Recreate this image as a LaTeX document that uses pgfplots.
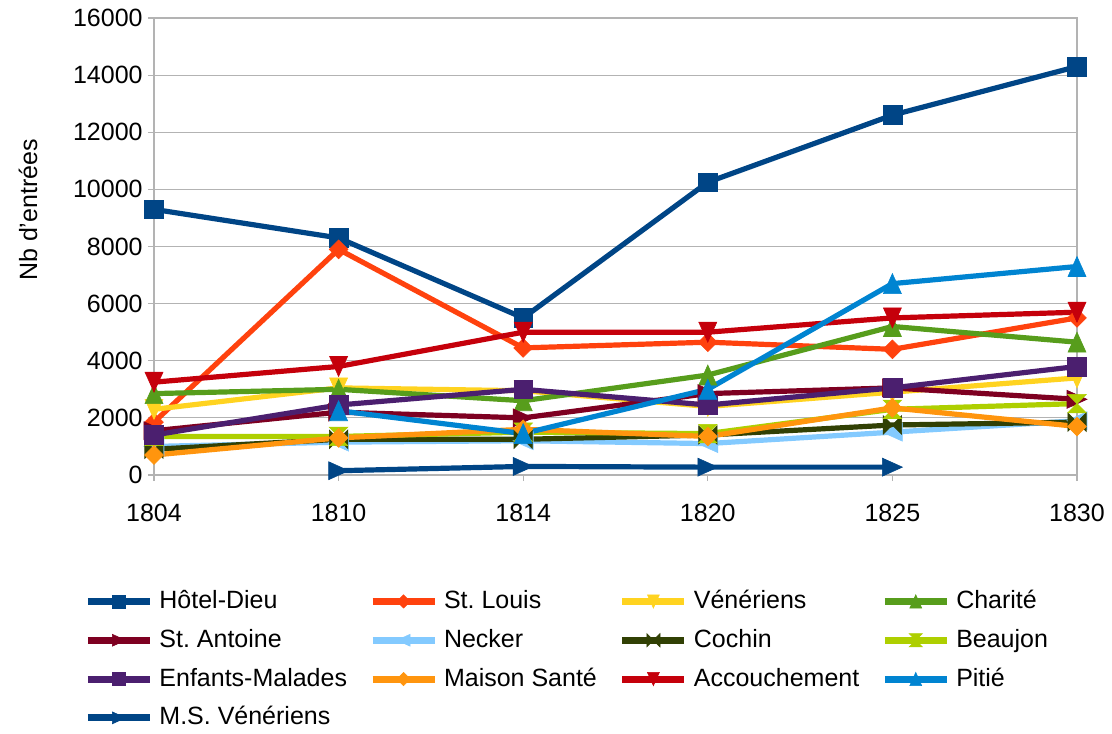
\documentclass[border=0pt]{standalone}
\usepackage{fontspec}
\setmainfont{Liberation Sans}
\usepackage{pgfplots}
\pgfplotsset{compat=1.18}
\frenchspacing
\definecolor{chd}{HTML}{004586}
\definecolor{csl}{HTML}{FF420E}
\definecolor{cven}{HTML}{FFD320}
\definecolor{ccha}{HTML}{579D1C}
\definecolor{csta}{HTML}{7E0021}
\definecolor{cnec}{HTML}{83CAFF}
\definecolor{ccoc}{HTML}{314004}
\definecolor{cbea}{HTML}{AECF00}
\definecolor{cenf}{HTML}{4B1F6F}
\definecolor{cmai}{HTML}{FF950E}
\definecolor{cacc}{HTML}{C5000B}
\definecolor{cpit}{HTML}{0084D1}
\definecolor{cmsv}{HTML}{004586}
\definecolor{gridgray}{HTML}{B3B3B3}
\pgfdeclareplotmark{bowtie}{%
  \pgfpathmoveto{\pgfqpoint{-\pgfplotmarksize}{\pgfplotmarksize}}%
  \pgfpathlineto{\pgfqpoint{\pgfplotmarksize}{-\pgfplotmarksize}}%
  \pgfpathlineto{\pgfqpoint{\pgfplotmarksize}{\pgfplotmarksize}}%
  \pgfpathlineto{\pgfqpoint{-\pgfplotmarksize}{-\pgfplotmarksize}}%
  \pgfpathclose\pgfusepathqfillstroke}
\pgfdeclareplotmark{hourglass}{%
  \pgfpathmoveto{\pgfqpoint{-\pgfplotmarksize}{\pgfplotmarksize}}%
  \pgfpathlineto{\pgfqpoint{\pgfplotmarksize}{\pgfplotmarksize}}%
  \pgfpathlineto{\pgfqpoint{-\pgfplotmarksize}{-\pgfplotmarksize}}%
  \pgfpathlineto{\pgfqpoint{\pgfplotmarksize}{-\pgfplotmarksize}}%
  \pgfpathclose\pgfusepathqfillstroke}
\pgfdeclareplotmark{tri}{%
  \pgfpathmoveto{\pgfqpoint{0pt}{\pgfplotmarksize}}%
  \pgfpathlineto{\pgfqpoint{0.9\pgfplotmarksize}{-\pgfplotmarksize}}%
  \pgfpathlineto{\pgfqpoint{-0.9\pgfplotmarksize}{-\pgfplotmarksize}}%
  \pgfpathclose\pgfusepathqfillstroke}
\pgfdeclareplotmark{dia}{%
  \pgfpathmoveto{\pgfqpoint{0pt}{\pgfplotmarksize}}%
  \pgfpathlineto{\pgfqpoint{\pgfplotmarksize}{0pt}}%
  \pgfpathlineto{\pgfqpoint{0pt}{-\pgfplotmarksize}}%
  \pgfpathlineto{\pgfqpoint{-\pgfplotmarksize}{0pt}}%
  \pgfpathclose\pgfusepathqfillstroke}
\pgfplotsset{
  ser/.style={color=#1, line width=2.6pt, mark options={solid, fill=#1, draw=#1, line width=0.3pt}},
  msq/.style={mark=square*, mark size=4.7pt},
  mdi/.style={mark=dia, mark size=4.7pt},
  mdn/.style={mark=tri, mark size=5pt, every mark/.append style={rotate=180}},
  mup/.style={mark=tri, mark size=5pt},
  mri/.style={mark=tri, mark size=5pt, every mark/.append style={rotate=-90}},
  mle/.style={mark=tri, mark size=5pt, every mark/.append style={rotate=90}},
  mbt/.style={mark=bowtie, mark size=4.6pt},
  mhg/.style={mark=hourglass, mark size=4.6pt},
}
\begin{document}
\begin{tikzpicture}
\begin{axis}[
  scale only axis,
  width=461.5pt, height=228.5pt,
  font=\fontsize{12.5}{15}\selectfont,
  xmin=0, xmax=5, ymin=0, ymax=16000,
  xtick={0,1,2,3,4,5},
  xticklabels={1804,1810,1814,1820,1825,1830},
  ytick={0,2000,...,16000},
  scaled y ticks=false,
  yticklabel style={/pgf/number format/fixed, /pgf/number format/1000 sep={}},
  /pgf/number format/1000 sep={},
  /pgf/number format/assume math mode=true,
  ymajorgrids,
  grid style={gridgray, line width=0.6pt},
  axis line style={gridgray, line width=0.6pt},
  tick style={gridgray, line width=0.6pt},
  tick align=outside,
  major tick length=3pt,
  xtick pos=bottom, ytick pos=left,
  xticklabel style={anchor=north, inner sep=0pt, text height=9pt, yshift=-11pt},
  yticklabel style={anchor=east, inner sep=0pt, xshift=-2.5pt},
  ylabel={Nb d'entrées},
  every axis y label/.style={at={(axis description cs:-0.1365,0.58)}, rotate=90, anchor=center},
  clip=false,
  legend columns=4,
  legend cell align=left,
  legend style={at={(axis description cs:-0.0823,-0.2386)}, anchor=north west, draw=none, fill=none,
    font=\fontsize{12.5}{15}\selectfont,
    nodes={inner sep=0pt, text height=10pt, text depth=3pt},
    row sep=6.4pt,
    /tikz/every odd column/.append style={column sep=3pt},
    /tikz/every even column/.append style={column sep=11pt}},
  legend image code/.code={%
    \draw[mark repeat=2, mark phase=2, #1, line width=3.5pt, mark size=3.3pt] plot coordinates {(0pt,0pt) (15.5pt,0pt) (31pt,0pt)};},
]
\addplot[ser=chd, msq] coordinates {(0,9300) (1,8300) (2,5500) (3,10250) (4,12600) (5,14300)};
\addlegendentry{Hôtel-Dieu}
\addplot[ser=csl, mdi] coordinates {(0,1850) (1,7900) (2,4450) (3,4650) (4,4400) (5,5500)};
\addlegendentry{St. Louis}
\addplot[ser=cven, mdn] coordinates {(0,2300) (1,3050) (2,2950) (3,2400) (4,2900) (5,3400)};
\addlegendentry{Vénériens}
\addplot[ser=ccha, mup] coordinates {(0,2850) (1,3000) (2,2600) (3,3500) (4,5200) (5,4650)};
\addlegendentry{Charité}
\addplot[ser=csta, mri] coordinates {(0,1550) (1,2200) (2,2000) (3,2850) (4,3050) (5,2650)};
\addlegendentry{St. Antoine}
\addplot[ser=cnec, mle] coordinates {(0,1000) (1,1150) (2,1200) (3,1100) (4,1500) (5,1900)};
\addlegendentry{Necker}
\addplot[ser=ccoc, mbt] coordinates {(0,900) (1,1250) (2,1250) (3,1400) (4,1750) (5,1850)};
\addlegendentry{Cochin}
\addplot[ser=cbea, mhg] coordinates {(0,1350) (1,1350) (2,1500) (3,1450) (4,2300) (5,2500)};
\addlegendentry{Beaujon}
\addplot[ser=cenf, msq] coordinates {(0,1400) (1,2450) (2,3000) (3,2450) (4,3050) (5,3800)};
\addlegendentry{Enfants-Malades}
\addplot[ser=cmai, mdi] coordinates {(0,700) (1,1300) (2,1600) (3,1350) (4,2350) (5,1700)};
\addlegendentry{Maison Santé}
\addplot[ser=cacc, mdn] coordinates {(0,3250) (1,3800) (2,5000) (3,5000) (4,5500) (5,5700)};
\addlegendentry{Accouchement}
\addplot[ser=cpit, mup] coordinates {(1,2250) (2,1450) (3,3000) (4,6700) (5,7300)};
\addlegendentry{Pitié}
\addplot[ser=cmsv, mri] coordinates {(1,150) (2,300) (3,275) (4,275)};
\addlegendentry{M.S. Vénériens}
\end{axis}
\pgfresetboundingbox
\path[use as bounding box] (current axis.south west) ++(-77pt,-129pt) rectangle ++(556pt,366.5pt);
\end{tikzpicture}
\end{document}
